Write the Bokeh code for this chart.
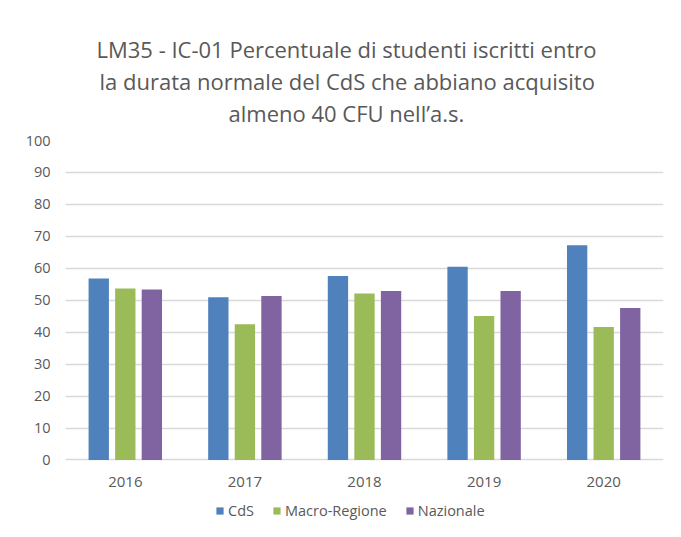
from bokeh.plotting import figure
from bokeh.models import FactorRange, Legend, LegendItem, Title, ColumnDataSource, Range1d, FixedTicker
from bokeh.core.properties import value
from bokeh.transform import dodge
from bokeh.embed import file_html
from bokeh.resources import INLINE

years = ["2016", "2017", "2018", "2019", "2020"]
cds = [56.8, 50.9, 57.6, 60.5, 67.2]
macro = [53.7, 42.5, 52.1, 45.1, 41.6]
naz = [53.4, 51.3, 52.9, 52.9, 47.6]
series_names = ["CdS", "Macro-Regione", "Nazionale"]
colors = ["#4F81BD", "#9BBB59", "#8064A2"]
y_ticks = [0, 10, 20, 30, 40, 50, 60, 70, 80, 90, 100]
title_lines = [
    "LM35 - IC-01 Percentuale di studenti iscritti entro",
    "la durata normale del CdS che abbiano acquisito",
    "almeno 40 CFU nell\u2019a.s.",
]
# horizontal offsets (px from plot-area left) that centre each title line on the chart box
title_offsets = [31, 34, 163]

FONT = "Open Sans"
TXT = "#595959"
Y_MIN = -19.25          # room below the axis for category labels and legend
LABEL_Y = -7.0          # data-unit position of the category labels

src = ColumnDataSource(data=dict(years=years, cds=cds, macro=macro, naz=naz,
                                 label_y=[LABEL_Y] * len(years)))

p = figure(
    x_range=FactorRange(factors=years, range_padding=0),
    y_range=Range1d(Y_MIN, 100),
    width=665, height=521,
    output_backend="svg", toolbar_location=None,
    min_border_left=65, min_border_right=2, min_border_top=140, min_border_bottom=0,
    background_fill_color="white", border_fill_color="white",
    outline_line_color=None,
)

# spacer between title block and plot area
p.add_layout(Title(text=" ", text_font_size="10px", standoff=0, offset=0), "above")
for line, off in zip(reversed(title_lines), reversed(title_offsets)):
    t = Title(text=line, align="left", text_font=FONT,
              text_font_size="22px", text_font_style="normal", text_color=TXT,
              standoff=0, offset=off)
    p.add_layout(t, "above")

renderers = []
for key, off, col in zip(["cds", "macro", "naz"], [-0.222, 0.0, 0.222], colors):
    r = p.vbar(x=dodge("years", off, range=p.x_range), top=key, bottom=0, width=0.17,
               source=src, fill_color=col, line_color=None)
    renderers.append(r)

p.text(x="years", y="label_y", text="years", source=src,
       text_font=value(FONT), text_font_size="15px", text_color=TXT,
       text_align="center", text_baseline="middle")

p.xaxis.visible = False
p.yaxis.ticker = FixedTicker(ticks=y_ticks)
p.yaxis.axis_line_color = None
p.yaxis.major_tick_line_color = None
p.yaxis.major_tick_out = 0
p.yaxis.major_tick_in = 0
p.yaxis.minor_tick_line_color = None
p.yaxis.major_label_text_font = FONT
p.yaxis.major_label_text_font_size = "14.5px"
p.yaxis.major_label_text_color = TXT
p.yaxis.major_label_standoff = 15

p.xgrid.grid_line_color = None
p.ygrid.grid_line_color = "#D9D9D9"
p.ygrid.grid_line_width = 1.3

legend = Legend(
    items=[LegendItem(label=n, renderers=[r]) for n, r in zip(series_names, renderers)],
    orientation="horizontal", location=(150, 1),
    label_text_font=FONT, label_text_font_size="14.5px", label_text_color=TXT,
    glyph_width=9, glyph_height=9, label_height=14, spacing=18, label_standoff=4,
    border_line_color=None, background_fill_color=None, margin=0, padding=0,
)
p.add_layout(legend, "center")

open("out.html", "w").write(file_html(p, INLINE))
